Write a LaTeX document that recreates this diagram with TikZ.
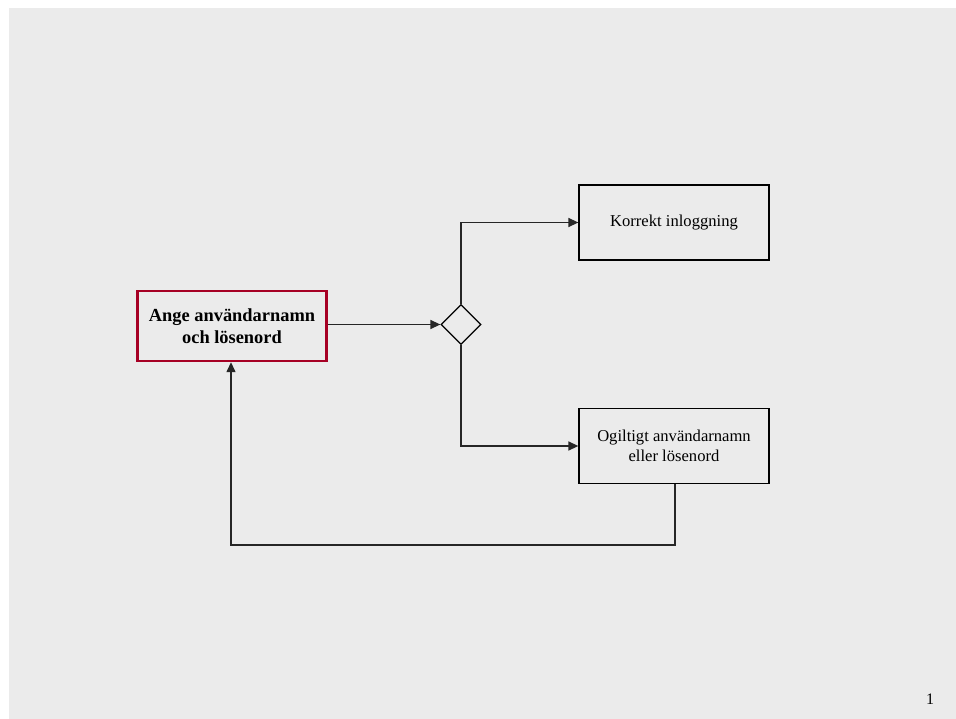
\documentclass[tikz,border=0pt]{standalone}
\usepackage{fontspec}
\setmainfont{Liberation Serif}
\usetikzlibrary{arrows.meta,shapes.geometric}
\definecolor{pagegray}{RGB}{235,235,235}
\definecolor{loginred}{RGB}{166,0,36}
\tikzset{
  flowbox/.style={draw=black, line width=1.3pt, fill=pagegray, minimum width=190pt, minimum height=75pt, align=center, inner sep=0pt, font=\fontsize{16.6}{19.8}\selectfont},
  startbox/.style={draw=loginred, line width=2.4pt, fill=pagegray, minimum width=189pt, minimum height=70pt, align=center, inner sep=0pt, font=\fontsize{18.4}{22.5}\selectfont\bfseries},
  decision/.style={draw=black, line width=1.3pt, fill=pagegray, diamond, minimum width=40pt, minimum height=40pt, inner sep=0pt},
  flow/.style={draw=black!85, line width=1.4pt},
  flowarrow/.style={flow, -{Triangle[length=10pt,width=9pt]}}
}
\begin{document}
\begin{tikzpicture}[x=1pt,y=-1pt]
  \useasboundingbox (0,0) rectangle (956,719);
  \fill[white] (0,0) rectangle (956,719);
  \fill[pagegray] (9,8) rectangle (956,719);

  \node[startbox] (enter) at (232,326) {Ange användarnamn\\och lösenord};
  \node[decision] (check) at (461,324.5) {};
  \node[flowbox] (ok) at (674,222.5) {Korrekt inloggning};
  \node[flowbox] (fail) at (674,446) {Ogiltigt användarnamn\\eller lösenord};
  \coordinate (loopR) at (675,545);
  \coordinate (loopL) at (231,545);

  \draw[flowarrow] (enter.east |- check.west) -- (check.west);
  \draw[flowarrow] (check.north) |- (ok.west);
  \draw[flowarrow] (check.south) |- (fail.west);
  \draw[flowarrow] (fail.south -| loopR) -- (loopR) -- (loopL) -- (loopL |- enter.south);

  \node[font=\fontsize{16}{19}\selectfont, anchor=base] (pagenum) at (930,704) {1};
\end{tikzpicture}
\end{document}
